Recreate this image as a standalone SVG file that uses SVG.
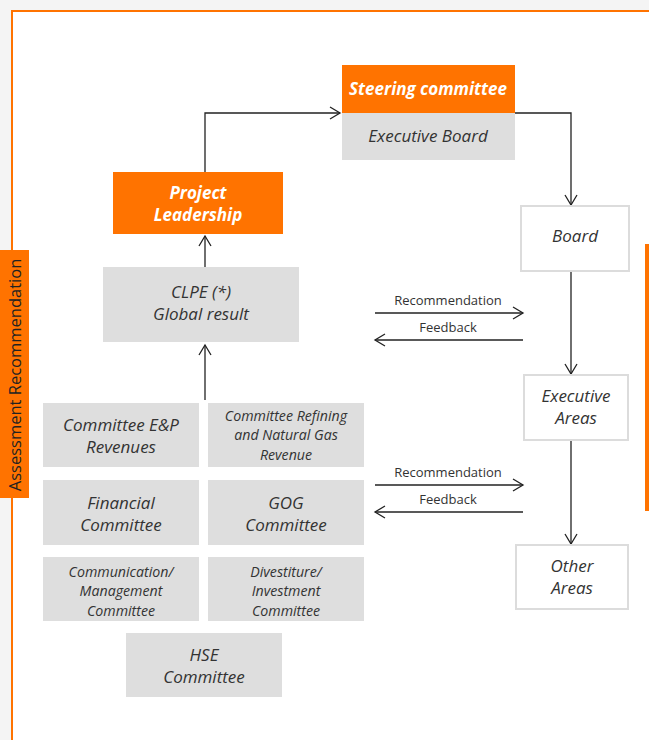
<svg xmlns="http://www.w3.org/2000/svg" width="649" height="740" viewBox="0 0 649 740">
<defs>
<marker id="ah" markerWidth="14" markerHeight="14" refX="12" refY="7" orient="auto" markerUnits="userSpaceOnUse">
<path d="M2,1 L12,7 L2,13" fill="none" stroke="#222" stroke-width="1.3"/>
</marker>
<style>
.t{font-family:"Open Sans","Noto Sans",sans-serif;font-style:italic;font-size:17px;fill:#333;text-anchor:middle}
.t3{font-family:"Open Sans","Noto Sans",sans-serif;font-style:italic;font-size:14.2px;fill:#333;text-anchor:middle}
.tw{font-family:"Open Sans","Noto Sans",sans-serif;font-style:italic;font-weight:bold;font-size:17px;fill:#fff;text-anchor:middle}
.g{fill:#dedede}
.o{fill:#ff7300}
.w{fill:#fff;stroke:#dcdcdc;stroke-width:2}
.c{fill:none;stroke:#222;stroke-width:1.3;marker-end:url(#ah)}
.l{font-family:"Open Sans","Noto Sans",sans-serif;font-size:13px;fill:#333;text-anchor:middle}
</style>
</defs>
<rect width="649" height="740" fill="#f4f4f4"/>
<rect x="12" y="11" width="640" height="735" fill="#fff" stroke="#ff7300" stroke-width="2"/>
<rect x="645" y="244" width="4" height="267" fill="#ff7300"/>
<g id="side-label">
<rect x="0" y="250" width="29" height="248" fill="#ff7300"/>
<text transform="translate(21,375) rotate(-90)" font-family="Open Sans, Noto Sans, sans-serif" font-size="16.5" fill="#222" text-anchor="middle">Assessment Recommendation</text>
</g>
<g id="connectors">
<path class="c" d="M205,172 V113 H340"/>
<path class="c" d="M515,113 H571 V205"/>
<path class="c" d="M571,271 V374"/>
<path class="c" d="M571,440 V544"/>
<path class="c" d="M205,267 V236"/>
<path class="c" d="M205,400 V345"/>
<path class="c" d="M375,313 H523"/>
<path class="c" d="M523,340 H375"/>
<path class="c" d="M375,485 H523"/>
<path class="c" d="M523,512 H375"/>
<text class="l" x="448" y="305">Recommendation</text>
<text class="l" x="448" y="332">Feedback</text>
<text class="l" x="448" y="477">Recommendation</text>
<text class="l" x="448" y="504">Feedback</text>
</g>
<g id="steering">
<rect class="o" x="342" y="65" width="173" height="48"/>
<text class="tw" x="428" y="95">Steering committee</text>
<rect class="g" x="342" y="113" width="173" height="47"/>
<text class="t" x="428" y="142">Executive Board</text>
</g>
<g id="board">
<rect class="w" x="521" y="206" width="108" height="65"/>
<text class="t" x="575" y="242">Board</text>
</g>
<g id="exec-areas">
<rect class="w" x="524" y="375" width="104" height="65"/>
<text class="t" x="576" y="402">Executive</text>
<text class="t" x="576" y="424">Areas</text>
</g>
<g id="other-areas">
<rect class="w" x="516" y="545" width="112" height="64"/>
<text class="t" x="572" y="572">Other</text>
<text class="t" x="572" y="594">Areas</text>
</g>
<g id="project-leadership">
<rect class="o" x="113" y="172" width="170" height="62"/>
<text class="tw" x="198" y="199">Project</text>
<text class="tw" x="198" y="221">Leadership</text>
</g>
<g id="clpe">
<rect class="g" x="103" y="267" width="196" height="75"/>
<text class="t" x="201" y="298">CLPE (*)</text>
<text class="t" x="201" y="320">Global result</text>
</g>
<g id="ep">
<rect class="g" x="43" y="403" width="156" height="64"/>
<text class="t" x="121" y="431">Committee E&amp;P</text>
<text class="t" x="121" y="453">Revenues</text>
</g>
<g id="refining">
<rect class="g" x="208" y="403" width="156" height="64"/>
<text class="t3" x="286" y="420.5">Committee Refining</text>
<text class="t3" x="286" y="440">and Natural Gas</text>
<text class="t3" x="286" y="459.5">Revenue</text>
</g>
<g id="financial">
<rect class="g" x="43" y="480" width="156" height="65"/>
<text class="t" x="121" y="509">Financial</text>
<text class="t" x="121" y="531">Committee</text>
</g>
<g id="gog">
<rect class="g" x="208" y="480" width="156" height="65"/>
<text class="t" x="286" y="509">GOG</text>
<text class="t" x="286" y="531">Committee</text>
</g>
<g id="communication">
<rect class="g" x="43" y="557" width="156" height="64"/>
<text class="t3" x="121" y="576.5">Communication/</text>
<text class="t3" x="121" y="596">Management</text>
<text class="t3" x="121" y="615.5">Committee</text>
</g>
<g id="divestiture">
<rect class="g" x="208" y="557" width="156" height="64"/>
<text class="t3" x="286" y="576.5">Divestiture/</text>
<text class="t3" x="286" y="596">Investment</text>
<text class="t3" x="286" y="615.5">Committee</text>
</g>
<g id="hse">
<rect class="g" x="126" y="633" width="156" height="64"/>
<text class="t" x="204" y="661">HSE</text>
<text class="t" x="204" y="683">Committee</text>
</g>
</svg>
